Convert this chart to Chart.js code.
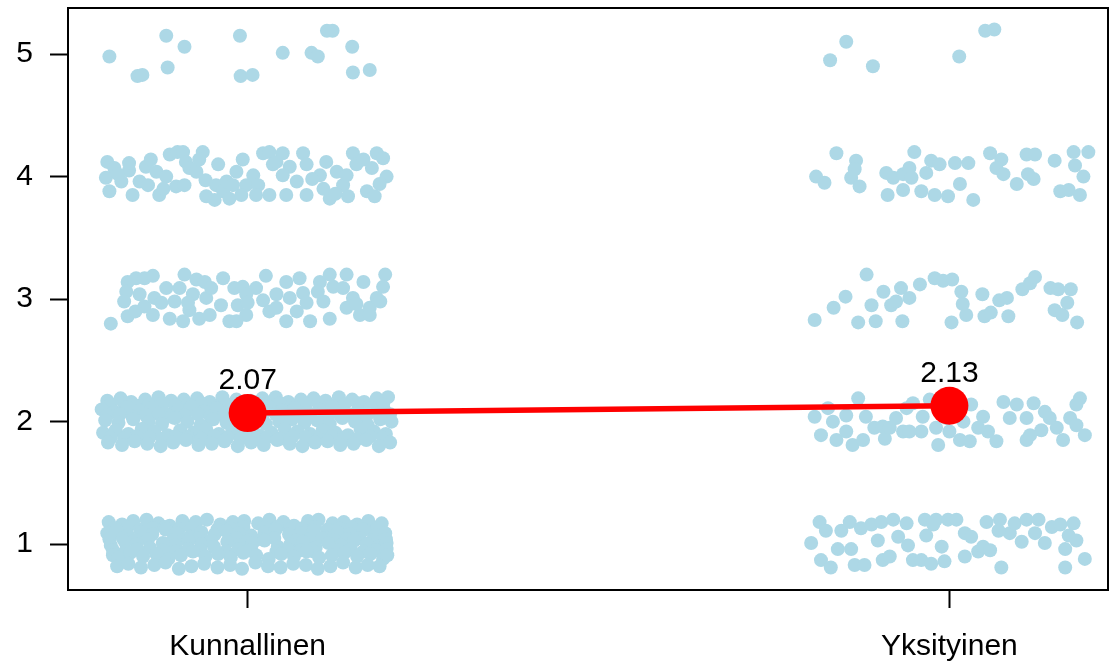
<!DOCTYPE html>
<html>
<head>
<meta charset="utf-8">
<script src="https://cdn.jsdelivr.net/npm/chart.js@4/dist/chart.umd.min.js"></script>
<style>
  body { margin: 0; background: #fff; }
  #wrap { width: 1110px; height: 666px; }
</style>
</head>
<body>
<div id="wrap"><canvas id="chart" width="1110" height="666"></canvas></div>
<script>
// -------------------------------
// Data
// -------------------------------
const groups = ["Kunnallinen", "Yksityinen"];
const groupMeans = [2.07, 2.13];
const yTicks = [1, 2, 3, 4, 5];

// jittered answers: [offset from group position, answer value]
const kunnallinen5 = [[-0.197,4.98],[-0.157,4.82],[-0.15,4.83],[-0.116,5.15],[-0.09,5.06],[-0.114,4.89],
  [-0.011,5.15],[-0.01,4.82],[0.007,4.83],[0.05,5.01],[0.091,5.01],[0.1,4.98],[0.113,5.19],[0.121,5.19],
  [0.149,5.06],[0.15,4.85],[0.174,4.87]];

const kunnallinen4 = [[-0.2,4.12],[-0.19,4.07],[-0.202,3.99],[-0.197,3.88],[-0.18,3.96],[-0.169,4.05],
  [-0.164,3.85],[-0.154,3.96],[-0.142,3.93],[-0.145,4.08],[-0.138,4.14],[-0.13,4.04],[-0.126,3.85],
  [-0.116,4.0],[-0.111,4.18],[-0.1,4.2],[-0.092,4.2],[-0.088,4.12],[-0.102,3.92],[-0.09,3.93],
  [-0.083,4.07],[-0.073,4.04],[-0.064,4.2],[-0.069,4.14],[-0.059,3.84],[-0.042,4.1],[-0.045,3.93],
  [-0.047,3.81],[-0.035,3.88],[-0.026,3.82],[-0.03,3.96],[-0.016,4.04],[-0.007,4.14],[-0.002,3.93],
  [-0.009,3.85],[0.008,4.01],[0.015,3.93],[0.022,4.19],[0.031,4.2],[0.036,4.1],[0.041,4.12],
  [0.05,4.19],[0.06,4.08],[0.05,4.01],[0.055,3.85],[0.07,3.96],[0.079,4.19],[0.084,4.1],[0.084,3.85],
  [0.103,4.01],[0.108,3.9],[0.112,4.12],[0.117,3.82],[0.127,4.04],[0.136,3.93],[0.143,3.84],
  [0.15,4.19],[0.155,4.1],[0.165,4.14],[0.17,3.88],[0.181,3.84],[0.184,4.19],[0.193,4.15],
  [0.198,4.0],[0.177,4.07],[0.141,4.01],[0.031,3.85],[0.012,3.85],[-0.021,3.93],[-0.169,4.11],
  [-0.185,4.02],[-0.06,3.97],[0.092,3.98],[0.125,3.86],[0.188,3.94],[-0.12,3.9]];

const kunnallinen3 = [[-0.195,2.8],[-0.171,2.86],[-0.171,3.14],[-0.173,3.06],[-0.176,2.98],[-0.159,3.17],
  [-0.147,3.17],[-0.135,3.19],[-0.154,3.04],[-0.147,2.94],[-0.135,2.87],[-0.133,3.01],[-0.116,3.09],
  [-0.111,2.84],[-0.104,2.98],[-0.097,3.09],[-0.09,3.2],[-0.083,2.91],[-0.073,3.16],[-0.078,3.04],
  [-0.069,2.84],[-0.061,3.14],[-0.059,3.01],[-0.052,3.09],[-0.054,2.87],[-0.035,3.17],[-0.038,2.95],
  [-0.026,2.82],[-0.019,3.09],[-0.014,2.95],[-0.007,3.1],[-0.002,2.87],[0.012,3.09],[0.022,2.99],
  [0.026,3.19],[0.031,2.9],[0.041,3.04],[0.041,2.93],[0.055,3.14],[0.06,3.01],[0.055,2.82],
  [0.074,3.17],[0.079,3.05],[0.07,2.9],[0.084,2.97],[0.103,3.14],[0.108,2.98],[0.117,3.2],
  [0.122,3.1],[0.117,2.84],[0.141,3.2],[0.136,3.09],[0.141,2.93],[0.15,3.01],[0.165,3.14],
  [0.16,2.87],[0.174,2.93],[0.184,3.01],[0.196,3.2],[0.193,3.1],[0.189,2.98],[0.174,2.87],
  [-0.002,3.04],[-0.092,2.82],[-0.016,2.82],[0.089,2.82],[-0.123,2.97],
  [-0.16,2.9],[0.0,2.97],[0.1,3.06],[0.155,2.96],[-0.085,2.97]];

const kunnallinen2 = [
  [-0.2,2.17],[-0.181,2.19],[-0.166,2.16],[-0.146,2.18],[-0.127,2.2],[-0.109,2.17],[-0.091,2.18],[-0.072,2.19],
  [-0.054,2.16],[-0.036,2.2],[-0.016,2.18],[0.004,2.17],[0.021,2.19],[0.04,2.2],[0.058,2.16],[0.076,2.18],
  [0.094,2.19],[0.111,2.17],[0.13,2.2],[0.149,2.18],[0.166,2.16],[0.184,2.19],[0.2,2.2],
  [-0.195,2.14],[-0.176,2.15],[-0.158,2.13],[-0.14,2.14],[-0.121,2.15],[-0.103,2.13],[-0.085,2.14],[-0.066,2.15],
  [-0.048,2.13],[-0.029,2.14],[-0.01,2.15],[0.009,2.13],[0.027,2.14],[0.046,2.15],[0.064,2.13],[0.083,2.14],
  [0.101,2.15],[0.12,2.13],[0.138,2.14],[0.157,2.15],[0.175,2.13],[0.193,2.14],
  [-0.208,2.1],[-0.19,2.08],[-0.172,2.12],[-0.155,2.09],[-0.137,2.11],[-0.118,2.07],[-0.099,2.1],[-0.081,2.12],
  [-0.063,2.08],[-0.045,2.11],[-0.026,2.09],[-0.007,2.1],[0.012,2.07],[0.03,2.12],[0.049,2.09],[0.067,2.11],
  [0.085,2.08],[0.103,2.1],[0.121,2.12],[0.139,2.07],[0.157,2.09],[0.175,2.11],[0.194,2.1],
  [-0.2,2.05],[-0.182,2.06],[-0.164,2.04],[-0.145,2.05],[-0.127,2.06],[-0.108,2.04],[-0.09,2.05],[-0.071,2.06],
  [-0.053,2.04],[-0.034,2.05],[-0.016,2.06],[0.003,2.04],[0.021,2.05],[0.04,2.06],[0.058,2.04],[0.077,2.05],
  [0.095,2.06],[0.114,2.04],[0.132,2.05],[0.151,2.06],[0.169,2.04],[0.188,2.05],[0.203,2.06],
  [-0.203,2.01],[-0.184,1.99],[-0.163,2.02],[-0.141,2.0],[-0.122,1.98],[-0.104,2.03],[-0.086,2.0],[-0.067,1.97],
  [-0.049,2.02],[-0.03,1.99],[-0.011,2.01],[0.008,2.03],[0.026,1.98],[0.045,2.0],[0.063,2.02],[0.081,1.99],
  [0.099,2.01],[0.117,1.98],[0.135,2.03],[0.153,2.0],[0.171,1.97],[0.189,2.02],[0.205,2.0],
  [-0.206,1.91],[-0.188,1.93],[-0.17,1.9],[-0.151,1.94],[-0.133,1.92],[-0.114,1.89],[-0.096,1.93],[-0.077,1.91],
  [-0.059,1.94],[-0.041,1.9],[-0.022,1.92],[-0.003,1.93],[0.016,1.89],[0.034,1.91],[0.053,1.94],[0.071,1.92],
  [0.089,1.9],[0.107,1.93],[0.125,1.91],[0.143,1.89],[0.161,1.94],[0.18,1.92],[0.197,1.9],
  [-0.195,1.87],[-0.176,1.86],[-0.158,1.88],[-0.14,1.87],[-0.121,1.86],[-0.103,1.88],[-0.085,1.87],[-0.066,1.86],
  [-0.048,1.88],[-0.029,1.87],[-0.01,1.86],[0.009,1.88],[0.027,1.87],[0.046,1.86],[0.064,1.88],[0.083,1.87],
  [0.101,1.86],[0.12,1.88],[0.138,1.87],[0.157,1.86],[0.175,1.88],[0.193,1.87],
  [-0.199,1.83],[-0.179,1.81],[-0.161,1.84],[-0.143,1.82],[-0.124,1.8],[-0.106,1.83],[-0.088,1.85],[-0.07,1.81],
  [-0.051,1.82],[-0.033,1.84],[-0.014,1.8],[0.005,1.83],[0.023,1.81],[0.042,1.85],[0.06,1.82],[0.078,1.8],
  [0.096,1.83],[0.114,1.84],[0.132,1.81],[0.151,1.82],[0.169,1.85],[0.187,1.8],[0.203,1.83]];

const kunnallinen1 = [
  [-0.198,1.18],[-0.179,1.16],[-0.163,1.19],[-0.144,1.2],[-0.127,1.17],[-0.111,1.15],[-0.093,1.19],[-0.074,1.18],
  [-0.058,1.2],[-0.039,1.16],[-0.021,1.18],[-0.005,1.19],[0.015,1.17],[0.031,1.2],[0.051,1.18],[0.066,1.15],
  [0.086,1.19],[0.101,1.2],[0.121,1.17],[0.137,1.18],[0.156,1.16],[0.172,1.19],[0.191,1.17],
  [-0.19,1.13],[-0.171,1.14],[-0.153,1.12],[-0.135,1.13],[-0.118,1.14],[-0.098,1.12],[-0.08,1.13],
  [-0.043,1.12],[-0.025,1.13],[-0.006,1.14],[0.024,1.13],[0.042,1.14],[0.06,1.12],[0.078,1.13],
  [0.096,1.14],[0.114,1.12],[0.131,1.13],[0.149,1.14],[0.167,1.12],[0.185,1.13],
  [-0.2,1.09],[-0.187,1.11],[-0.17,1.07],[-0.152,1.1],[-0.136,1.08],[-0.117,1.12],[-0.101,1.09],[-0.082,1.06],
  [-0.066,1.1],[-0.047,1.08],[-0.031,1.11],[-0.012,1.09],[0.005,1.07],[0.024,1.1],[0.04,1.12],[0.059,1.08],
  [0.076,1.09],[0.094,1.11],[0.11,1.06],[0.129,1.1],[0.146,1.08],[0.165,1.12],[0.182,1.07],[0.196,1.09],
  [-0.197,1.04],[-0.178,1.05],[-0.16,1.03],[-0.142,1.04],[-0.107,1.03],[-0.088,1.04],[-0.07,1.05],
  [-0.052,1.03],[-0.016,1.05],[0.002,1.03],[0.02,1.04],[0.038,1.05],[0.069,1.03],[0.088,1.04],
  [0.106,1.05],[0.124,1.03],[0.142,1.04],[0.16,1.05],[0.178,1.03],[0.197,1.04],
  [-0.195,0.99],[-0.175,1.02],[-0.158,1.0],[-0.139,0.97],[-0.121,1.01],[-0.103,0.99],[-0.084,1.03],[-0.066,1.0],
  [-0.048,0.98],[-0.029,1.02],[-0.012,0.99],[0.007,1.01],[0.024,1.03],[0.043,0.98],[0.061,1.0],[0.079,1.02],
  [0.097,0.97],[0.115,1.01],[0.133,0.99],[0.152,1.03],[0.17,1.0],[0.186,0.98],[0.198,1.01],
  [-0.192,0.95],[-0.174,0.94],[-0.157,0.96],[-0.12,0.95],[-0.102,0.94],[-0.085,0.96],[-0.067,0.95],
  [-0.031,0.94],[-0.013,0.96],[0.005,0.95],[0.041,0.94],[0.058,0.96],[0.076,0.95],[0.094,0.94],
  [0.129,0.95],[0.147,0.96],[0.165,0.94],[0.183,0.95],[0.198,0.96],
  [-0.192,0.91],[-0.184,0.89],[-0.167,0.93],[-0.149,0.9],[-0.13,0.92],[-0.113,0.88],[-0.095,0.91],[-0.078,0.94],
  [-0.06,0.9],[-0.042,0.92],[-0.024,0.89],[-0.006,0.93],[0.012,0.91],[0.03,0.88],[0.048,0.92],[0.066,0.9],
  [0.084,0.94],[0.102,0.89],[0.12,0.91],[0.138,0.93],[0.156,0.9],[0.175,0.92],[0.193,0.88],[0.199,0.91],
  [-0.186,0.82],[-0.17,0.84],[-0.152,0.81],[-0.133,0.83],[-0.117,0.85],[-0.098,0.8],[-0.08,0.82],[-0.062,0.84],
  [-0.043,0.81],[-0.025,0.83],[-0.008,0.8],[0.011,0.85],[0.029,0.82],[0.047,0.81],[0.065,0.84],[0.083,0.83],
  [0.1,0.8],[0.118,0.82],[0.136,0.85],[0.154,0.81],[0.171,0.83],[0.188,0.82]];

const yksityinen5 = [[-0.147,5.1],[-0.17,4.95],[-0.109,4.9],[0.014,4.98],[0.051,5.19],[0.064,5.2]];

const yksityinen4 = [[-0.19,4.0],[-0.178,3.95],[-0.161,4.19],[-0.133,4.13],[-0.135,4.06],[-0.14,3.99],
  [-0.128,3.92],[-0.09,4.03],[-0.08,3.99],[-0.088,3.85],[-0.066,3.89],[-0.066,4.02],[-0.057,4.07],
  [-0.054,3.99],[-0.05,4.2],[-0.04,3.88],[-0.033,4.03],[-0.026,4.13],[-0.014,4.1],[-0.021,3.85],
  [-0.002,3.84],[0.008,4.11],[0.015,3.94],[0.027,4.11],[0.034,3.81],[0.058,4.19],[0.074,4.14],
  [0.067,4.07],[0.077,4.02],[0.096,3.94],[0.11,4.18],[0.122,4.18],[0.112,4.02],[0.12,3.98],
  [0.15,4.13],[0.158,3.88],[0.17,3.89],[0.177,4.2],[0.198,4.2],[0.179,4.09],[0.191,4.0],[0.186,3.85]];

const yksityinen3 = [[-0.192,2.83],[-0.165,2.93],[-0.148,3.02],[-0.118,3.2],[-0.111,2.95],[-0.13,2.81],
  [-0.105,2.82],[-0.094,3.06],[-0.083,2.95],[-0.076,2.98],[-0.069,3.09],[-0.057,3.01],[-0.067,2.82],
  [-0.042,3.12],[-0.021,3.17],[-0.009,3.15],[0.004,3.16],[0.017,3.06],[0.019,2.96],[0.024,2.87],
  [0.003,2.81],[0.047,3.04],[0.05,2.86],[0.059,2.89],[0.071,2.99],[0.082,3.01],[0.084,2.86],
  [0.104,3.08],[0.115,3.13],[0.122,3.18],[0.144,3.09],[0.155,3.08],[0.173,3.08],[0.168,2.97],
  [0.15,2.91],[0.161,2.87],[0.182,2.81]];

const yksityinen2 = [[-0.13,2.19],[-0.192,2.04],[-0.183,1.89],[-0.166,2.0],[-0.161,1.85],[-0.147,2.05],
  [-0.147,1.92],[-0.138,1.81],[-0.123,1.85],[-0.119,2.04],[-0.107,1.95],[-0.092,1.86],[-0.095,1.96],
  [-0.076,2.03],[-0.066,1.92],[-0.061,2.11],[-0.052,2.15],[-0.038,2.04],[-0.04,1.92],[-0.019,1.95],
  [-0.016,1.81],[0.0,1.92],[0.015,1.85],[0.02,2.0],[0.029,1.84],[0.031,2.14],[0.048,2.04],[0.055,1.92],
  [0.067,1.84],[0.077,2.16],[0.086,2.03],[0.096,2.14],[0.11,2.03],[0.12,2.15],[0.136,2.08],[0.131,1.93],
  [0.143,2.03],[0.11,1.85],[0.115,1.89],[0.153,1.95],[0.162,1.85],[0.172,2.03],[0.186,2.19],[0.181,1.97],
  [0.193,1.89],[0.181,2.14],[-0.028,2.18],[-0.057,1.92],[-0.173,2.11],[-0.085,1.95],[-0.004,2.03],[0.041,1.95]];

const yksityinen1 = [[-0.197,1.01],[-0.185,1.18],[-0.183,0.87],[-0.169,0.81],[-0.176,1.11],[-0.159,0.96],
  [-0.154,1.11],[-0.142,1.18],[-0.14,0.96],[-0.135,0.83],[-0.126,1.13],[-0.121,0.83],[-0.111,1.16],
  [-0.102,1.03],[-0.095,0.87],[-0.097,1.18],[-0.085,0.9],[-0.08,1.2],[-0.073,1.06],[-0.061,1.17],
  [-0.059,0.99],[-0.052,0.87],[-0.04,0.87],[-0.035,1.2],[-0.033,1.07],[-0.026,0.84],[-0.019,1.2],
  [-0.011,0.98],[-0.007,0.86],[-0.002,1.2],[0.01,1.2],[0.022,1.09],[0.022,0.9],[0.031,1.06],[0.041,0.94],
  [0.048,0.98],[0.053,1.18],[0.058,0.95],[0.072,1.2],[0.074,0.81],[0.086,1.09],[0.093,1.17],[0.103,1.02],
  [0.11,1.2],[0.122,1.09],[0.127,1.2],[0.136,1.01],[0.146,1.14],[0.158,1.16],[0.165,0.96],[0.17,1.07],
  [0.165,0.81],[0.177,1.17],[0.181,1.03],[0.193,0.88],[0.07,1.11],[-0.023,1.16]];

// -------------------------------
// Build chart datasets
// -------------------------------
function place(list, group) {
  return list.map((p) => ({ x: group + p[0], y: p[1] }));
}

const jitterPoints = [].concat(
  place(kunnallinen1, 1), place(kunnallinen2, 1), place(kunnallinen3, 1),
  place(kunnallinen4, 1), place(kunnallinen5, 1),
  place(yksityinen1, 2), place(yksityinen2, 2), place(yksityinen3, 2),
  place(yksityinen4, 2), place(yksityinen5, 2)
);
const meanPoints = groupMeans.map((m, i) => ({ x: i + 1, y: m }));

const FONT = { family: '"Liberation Sans", Arial, sans-serif', size: 30 };

// box around plot area
const boxPlugin = {
  id: "box",
  afterDraw(chart) {
    const { ctx, chartArea: a } = chart;
    ctx.save();
    ctx.strokeStyle = "#000";
    ctx.lineWidth = 2;
    ctx.strokeRect(a.left, a.top, a.right - a.left, a.bottom - a.top);
    ctx.restore();
  },
};

// mean value labels above the red points
const meanLabels = {
  id: "meanLabels",
  afterDatasetsDraw(chart) {
    const { ctx } = chart;
    const meta = chart.getDatasetMeta(0);
    ctx.save();
    ctx.font = `${FONT.size}px ${FONT.family}`;
    ctx.fillStyle = "#000";
    ctx.textAlign = "center";
    ctx.textBaseline = "alphabetic";
    meta.data.forEach((pt, i) => {
      ctx.fillText(groupMeans[i].toFixed(2), pt.x, pt.y - 24);
    });
    ctx.restore();
  },
};

// keep the plot area fixed: no extra room for overhanging labels
function noPad(s) {
  s.paddingLeft = 0; s.paddingRight = 0; s.paddingTop = 0; s.paddingBottom = 0;
}

new Chart(document.getElementById("chart"), {
  type: "scatter",
  data: {
    datasets: [
      {
        label: "Mean",
        data: meanPoints,
        showLine: true,
        borderColor: "#FF0000",
        borderWidth: 5.5,
        backgroundColor: "#FF0000",
        pointBackgroundColor: "#FF0000",
        pointBorderColor: "#FF0000",
        pointBorderWidth: 0,
        pointRadius: 19,
        pointHoverRadius: 19,
        order: 0,
      },
      {
        label: "Answers",
        data: jitterPoints,
        backgroundColor: "#ADD8E6",
        borderColor: "#ADD8E6",
        borderWidth: 0,
        pointRadius: 7,
        pointHoverRadius: 7,
        order: 1,
      },
    ],
  },
  options: {
    responsive: false,
    animation: false,
    events: [],
    layout: { autoPadding: false, padding: { top: 8, right: 2, left: 0, bottom: 0 } },
    plugins: { legend: { display: false }, tooltip: { enabled: false } },
    scales: {
      x: {
        type: "linear",
        min: 0.744,
        max: 2.226,
        afterBuildTicks: (s) => { s.ticks = groups.map((g, i) => ({ value: i + 1 })); },
        afterFit: (s) => { s.height = 76; noPad(s); },
        ticks: {
          font: FONT,
          color: "#000",
          padding: 21,
          maxRotation: 0,
          autoSkip: false,
          callback: (v) => groups[Math.round(v) - 1],
        },
        grid: { drawOnChartArea: false, drawTicks: true, tickLength: 18, tickWidth: 2, tickColor: "#000" },
        border: { display: false },
      },
      y: {
        min: 0.626,
        max: 5.376,
        afterBuildTicks: (s) => { s.ticks = yTicks.map((v) => ({ value: v })); },
        afterFit: (s) => { s.width = 68; noPad(s); },
        ticks: { font: FONT, color: "#000", padding: 17 },
        grid: { drawOnChartArea: false, drawTicks: true, tickLength: 18, tickWidth: 2, tickColor: "#000" },
        border: { display: false },
      },
    },
  },
  plugins: [boxPlugin, meanLabels],
});
</script>
</body>
</html>
